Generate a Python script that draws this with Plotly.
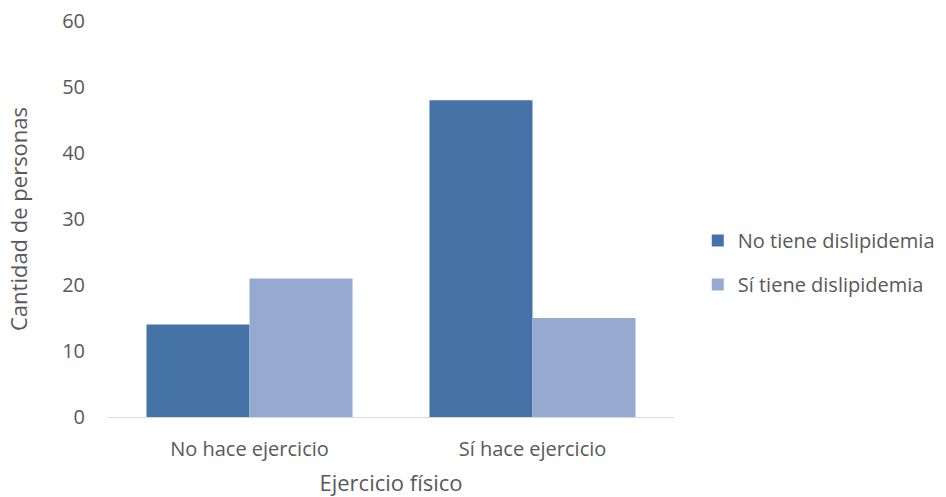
import plotly.graph_objects as go

categories = ["No hace ejercicio", "Sí hace ejercicio"]
no_tiene = [14, 48]
si_tiene = [21, 15]
series_names = ["No tiene dislipidemia", "Sí tiene dislipidemia"]
y_ticks = [0, 10, 20, 30, 40, 50, 60]

FONT = "'Open Sans', sans-serif"
GRAY = "#595959"

fig = go.Figure()
fig.add_trace(go.Bar(x=categories, y=no_tiene, name=series_names[0],
                     marker=dict(color="#4673A7", line=dict(width=0)),
                     legendgroup="a"))
fig.add_trace(go.Bar(x=categories, y=si_tiene, name=series_names[1],
                     marker=dict(color="#95A9D1", line=dict(width=0)),
                     legendgroup="b"))

fig.update_layout(
    width=946, height=497,
    margin=dict(l=108, r=272, t=21, b=80, autoexpand=False),
    paper_bgcolor="white", plot_bgcolor="white",
    font=dict(family=FONT, size=20, color=GRAY),
    barmode="group", bargap=0.272, bargroupgap=0,
    showlegend=True,
    legend=dict(x=1.042, y=0.39, xanchor="left", yanchor="middle",
                font=dict(size=20, color=GRAY), tracegroupgap=15,
                itemwidth=30),
    xaxis=dict(showline=True, linecolor="#D9D9D9", linewidth=1,
               ticks="", showgrid=False, automargin=False,
               title=dict(text="Ejercicio físico", font=dict(size=22, color=GRAY), standoff=16),
               tickfont=dict(size=20, color=GRAY), ticklabelstandoff=14),
    yaxis=dict(range=[0, 60], tickvals=y_ticks, showgrid=False, zeroline=False,
               showline=False, ticks="", ticklabelstandoff=22, automargin=False,
               title=dict(text="Cantidad de personas", font=dict(size=22, color=GRAY), standoff=28),
               tickfont=dict(size=20, color=GRAY)),
)

fig.write_html("out.html")
